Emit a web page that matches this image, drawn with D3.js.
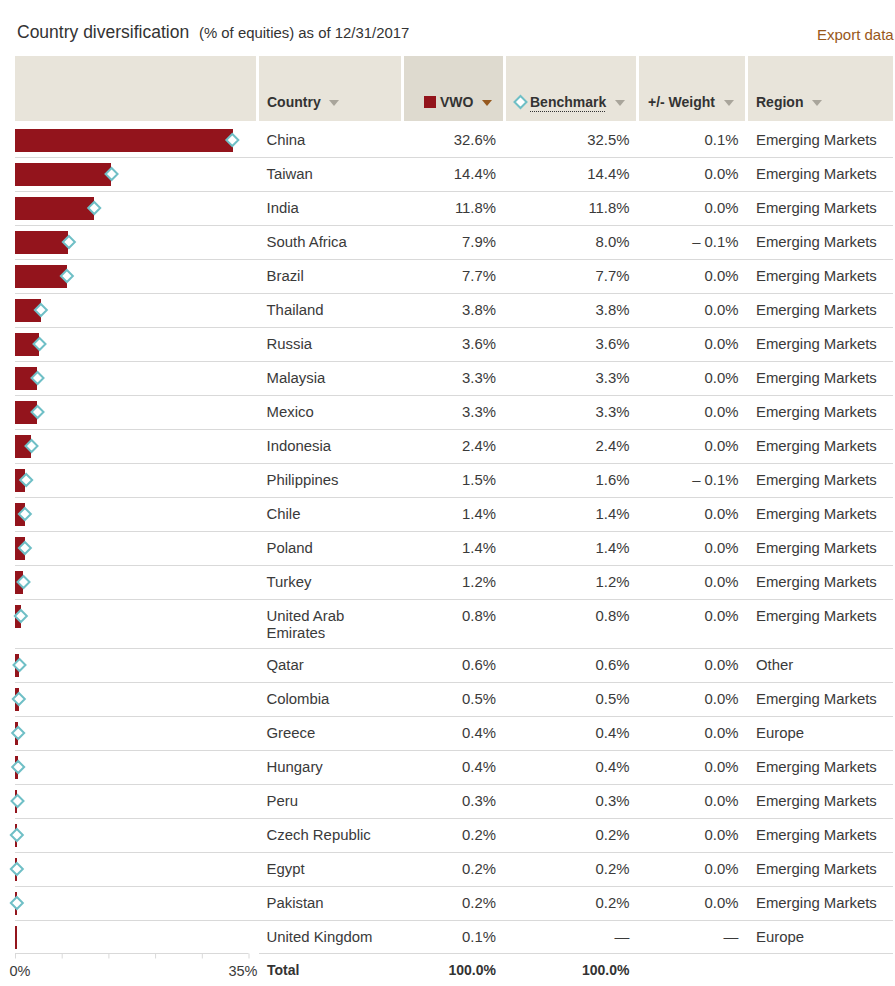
<!DOCTYPE html>
<html>
<head>
<meta charset="utf-8">
<script src="https://d3js.org/d3.v7.min.js"></script>
<style>
html, body { margin: 0; padding: 0; background: #fff; overflow: hidden; }
text { font-family: "Liberation Sans", Arial, sans-serif; fill: #3a3a3a; }
.cell { font-size: 14.9px; }
.head, .total { font-size: 14px; font-weight: bold; fill: #333; }
</style>
</head>
<body>
<div id="chart"></div>
<script>
var countries = [["China"],["Taiwan"],["India"],["South Africa"],["Brazil"],["Thailand"],["Russia"],["Malaysia"],["Mexico"],["Indonesia"],["Philippines"],["Chile"],["Poland"],["Turkey"],["United Arab","Emirates"],["Qatar"],["Colombia"],["Greece"],["Hungary"],["Peru"],["Czech Republic"],["Egypt"],["Pakistan"],["United Kingdom"]]
var vwo = [32.6,14.4,11.8,7.9,7.7,3.8,3.6,3.3,3.3,2.4,1.5,1.4,1.4,1.2,0.8,0.6,0.5,0.4,0.4,0.3,0.2,0.2,0.2,0.1]
var benchmark = [32.5,14.4,11.8,8.0,7.7,3.8,3.6,3.3,3.3,2.4,1.6,1.4,1.4,1.2,0.8,0.6,0.5,0.4,0.4,0.3,0.2,0.2,0.2,null]
var weight = [0.1,0,0,-0.1,0,0,0,0,0,0,-0.1,0,0,0,0,0,0,0,0,0,0,0,0,null]
var regions = ["Emerging Markets","Emerging Markets","Emerging Markets","Emerging Markets","Emerging Markets","Emerging Markets","Emerging Markets","Emerging Markets","Emerging Markets","Emerging Markets","Emerging Markets","Emerging Markets","Emerging Markets","Emerging Markets","Emerging Markets","Other","Emerging Markets","Europe","Emerging Markets","Emerging Markets","Emerging Markets","Emerging Markets","Emerging Markets","Europe"]
var axisTicks = [0,7,14,21,28,35]

var w = 895, h = 986
var red = "#93141c", teal = "#6fbfc6", rule = "#d9d9d9", headBg = "#e8e4da"

var svg = d3.select("#chart").append("svg")
	.attr("width", w)
	.attr("height", h)
	.style("display", "block")

var x = d3.scaleLinear().domain([0, 35]).range([15, 248.5])

// title
svg.append("text").attr("x", 17).attr("y", 38)
	.style("font-size", "17.5px").style("fill", "#333").text("Country diversification")
svg.append("text").attr("x", 199).attr("y", 38)
	.style("font-size", "14.9px").style("fill", "#333").text("(% of equities) as of 12/31/2017")
svg.append("text").attr("x", 817).attr("y", 40)
	.style("font-size", "15px").style("fill", "#98581a").text("Export data")

// header
var headCols = [
	{x0: 15, x1: 256},
	{x0: 259, x1: 401, label: "Country", lx: 267, ax: 334},
	{x0: 404, x1: 503, label: "VWO", lx: 440, ax: 487, active: true},
	{x0: 506, x1: 636, label: "Benchmark", lx: 530, ax: 620},
	{x0: 639, x1: 745, label: "+/- Weight", lx: 648, ax: 729},
	{x0: 748, x1: 893, label: "Region", lx: 756, ax: 817}
]
svg.selectAll("rect.headbg").data(headCols).enter().append("rect")
	.attr("class", "headbg")
	.attr("x", function(d){ return d.x0 })
	.attr("y", 56)
	.attr("width", function(d){ return d.x1 - d.x0 })
	.attr("height", 65)
	.attr("fill", function(d){ return d.active ? "#dedacf" : headBg })

var labelled = headCols.filter(function(d){ return d.label })
svg.selectAll("text.head").data(labelled).enter().append("text")
	.attr("class", "head")
	.attr("x", function(d){ return d.lx })
	.attr("y", 107)
	.text(function(d){ return d.label })
svg.selectAll("path.sort").data(labelled).enter().append("path")
	.attr("class", "sort")
	.attr("transform", function(d){ return "translate(" + d.ax + ",100)" })
	.attr("d", "M-5,0L5,0L0,6Z")
	.attr("fill", function(d){ return d.active ? "#96591f" : "#a9a59b" })

// legend keys in the header
svg.append("rect").attr("x", 424).attr("y", 96).attr("width", 12).attr("height", 12).attr("fill", red)
var diamond = "M0,-6L6,0L0,6L-6,0Z"
svg.append("path").attr("d", diamond).attr("transform", "translate(520.5,102)")
	.attr("fill", "#fff").attr("stroke", teal).attr("stroke-width", 2)
svg.append("line").attr("x1", 530).attr("x2", 606).attr("y1", 111.5).attr("y2", 111.5)
	.attr("stroke", "#333").attr("stroke-dasharray", "1,1")

// rows, the two line country gets a taller row
var rows = []
var rowTop = 124
for(var i = 0; i < countries.length; i++){
	var rowH = countries[i].length > 1 ? 49 : 34
	rows.push({i: i, top: rowTop, h: rowH})
	rowTop += rowH
}

var row = svg.selectAll("g.row").data(rows).enter().append("g")
	.attr("class", "row")
	.attr("transform", function(d){ return "translate(0," + d.top + ")" })

row.filter(function(d){ return d.i < rows.length - 1 }).append("line")
	.attr("x1", 15).attr("x2", 893)
	.attr("y1", function(d){ return d.h - 0.5 }).attr("y2", function(d){ return d.h - 0.5 })
	.attr("stroke", rule)

// bars snap up to whole pixels, never thinner than 2
row.append("rect")
	.attr("x", x(0))
	.attr("y", 5)
	.attr("width", function(d){ return Math.max(2, Math.ceil(x(vwo[d.i]) - x(0) - 0.1)) })
	.attr("height", 23)
	.attr("fill", red)

row.filter(function(d){ return benchmark[d.i] !== null }).append("path")
	.attr("d", diamond)
	.attr("transform", function(d){ return "translate(" + (x(benchmark[d.i]) + 0.5) + ",16)" })
	.attr("fill", "#fff")
	.attr("stroke", teal)
	.attr("stroke-width", 2)

function pct(v){ return v === null ? "—" : v.toFixed(1) + "%" }
function weightLabel(v){
	if(v === null){ return "—" }
	return v < 0 ? "– " + Math.abs(v).toFixed(1) + "%" : v.toFixed(1) + "%"
}

row.each(function(d){
	d3.select(this).selectAll("text.country").data(countries[d.i]).enter().append("text")
		.attr("class", "cell country")
		.attr("x", 266.5)
		.attr("y", function(t, j){ return 21 + j * 17 })
		.text(function(t){ return t })
})
row.append("text").attr("class", "cell").attr("x", 496).attr("y", 21).attr("text-anchor", "end")
	.text(function(d){ return pct(vwo[d.i]) })
row.append("text").attr("class", "cell").attr("x", 629.5).attr("y", 21).attr("text-anchor", "end")
	.text(function(d){ return pct(benchmark[d.i]) })
row.append("text").attr("class", "cell").attr("x", 738.5).attr("y", 21).attr("text-anchor", "end")
	.text(function(d){ return weightLabel(weight[d.i]) })
row.append("text").attr("class", "cell").attr("x", 756).attr("y", 21)
	.text(function(d){ return regions[d.i] })

// bottom axis and total row
var axisY = rowTop - 1.5
svg.append("line").attr("x1", 259).attr("x2", 893).attr("y1", axisY).attr("y2", axisY).attr("stroke", rule)

var axis = d3.axisBottom(x)
	.tickValues(axisTicks)
	.tickSize(5)
	.tickFormat(function(d){ return (d === 0 || d === 35) ? d + "%" : "" })
var ag = svg.append("g").attr("transform", "translate(0," + axisY + ")").call(axis)
ag.select(".domain").attr("stroke", rule).attr("d", "M" + x(0) + ",0H" + x(35))
ag.selectAll(".tick line").attr("stroke", rule)
// end labels are pulled in so 35% stops at the column gap
ag.selectAll(".tick text")
	.attr("y", 13).attr("dy", "9")
	.attr("text-anchor", function(d){ return d === 0 ? "start" : "end" })
	.attr("x", function(d){ return d === 0 ? -6 : 8.5 })
	.style("font-family", "'Liberation Sans', Arial, sans-serif")
	.style("font-size", "14.5px")
	.style("fill", "#3a3a3a")

svg.append("text").attr("class", "total").attr("x", 267).attr("y", 975).text("Total")
svg.append("text").attr("class", "total").attr("x", 496).attr("y", 975).attr("text-anchor", "end").text("100.0%")
svg.append("text").attr("class", "total").attr("x", 629.5).attr("y", 975).attr("text-anchor", "end").text("100.0%")
</script>
</body>
</html>
